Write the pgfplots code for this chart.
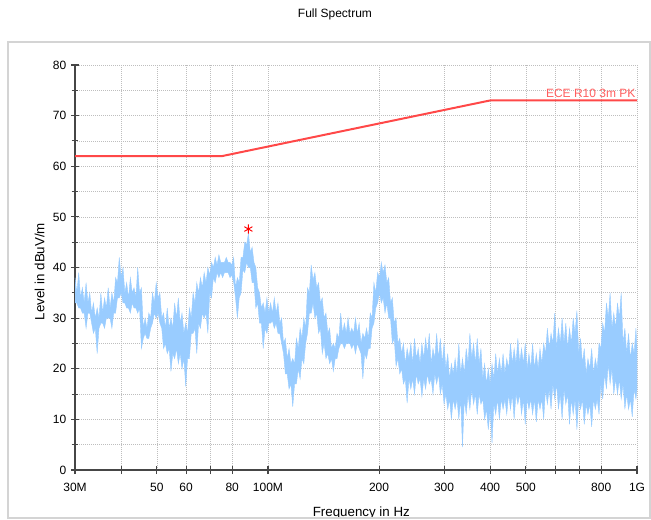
\documentclass[border=0pt]{standalone}
\usepackage{fontspec}
\setmainfont{Liberation Sans}
\usepackage{pgfplots}
\pgfplotsset{compat=1.18}
\definecolor{spec}{RGB}{153,204,255}
\definecolor{lim}{RGB}{255,72,72}
\definecolor{limtxt}{RGB}{255,95,95}
\definecolor{axgray}{RGB}{70,70,70}
\definecolor{gridgray}{RGB}{190,190,190}
\definecolor{framegray}{RGB}{212,212,212}

\begin{document}
\begin{tikzpicture}
\begin{axis}[
    at={(0,0)}, anchor=south west,
    width=421.5pt, height=303.75pt, scale only axis,
    xmode=log, xmin=30, xmax=1000, ymin=0, ymax=80,
    axis lines=left, axis line style={-, axgray, line width=1.2pt},
    xtick={30,40,50,60,70,80,100,200,300,400,500,600,700,800,1000},
    xticklabels={30M,,50,60,,80,100M,200,300,400,500,,,800,1G},
    minor xtick={},
    ytick={0,10,...,80}, minor ytick={5,15,...,75},
    grid=both,
    major grid style={gridgray, line width=0.5pt, dash pattern=on 0.75pt off 0.75pt},
    minor grid style={gridgray, line width=0.5pt, dash pattern=on 0.75pt off 0.75pt},
    tick align=center, major tick length=6pt, minor tick length=5pt,
    tick style={axgray, line width=0.8pt},
    /pgf/number format/assume math mode=true,
    tick label style={font=\fontsize{9}{10}\selectfont, text=black},
    xticklabel style={yshift=-3pt},
    label style={font=\fontsize{9.5}{11}\selectfont},
    xlabel={Frequency in Hz},
    ylabel={Level in dBuV/m},
    every axis x label/.style={at={(axis description cs:0.5,0)}, anchor=center, yshift=-32pt, xshift=4pt},
    every axis y label/.style={at={(axis description cs:0,0.5)}, rotate=90, anchor=center, yshift=26.5pt, xshift=-3pt},
    clip=false,
]
% measured spectrum: upper edge left to right, then lower edge right to left
\addplot[draw=spec, fill=spec, line width=0.3pt] coordinates {
(30.00,38)(30.35,35)(30.70,39)(31.06,34)(31.41,36)(31.77,33)(32.15,37)(32.52,33)(32.90,35)(33.28,31)
(33.66,33)(34.05,30)(34.45,32)(34.85,30)(35.25,35)(35.66,31)(36.07,34)(36.49,32)(36.91,36)(37.34,32)
(37.77,35)(38.21,33)(38.65,38)(39.10,37)(39.55,42)(40.01,38)(40.47,40)(40.94,35)(41.41,37)(41.89,34)
(42.38,38)(42.87,35)(43.36,36)(43.86,34)(44.37,40)(44.88,35)(45.41,36)(45.94,28)(46.46,30)(47.00,28)
(47.55,31)(48.10,30)(48.65,35)(49.21,33)(49.79,37)(50.37,34)(50.95,35)(51.54,30)(52.13,31)(52.73,28)
(53.35,32)(53.97,28)(54.59,30)(55.22,28)(55.86,33)(56.51,30)(57.17,34)(57.83,29)(58.49,31)(59.17,27)
(59.86,29)(60.55,27)(61.25,32)(61.96,30)(62.68,35)(63.41,33)(64.14,37)(64.88,35)(65.63,38)(66.39,36)
(67.16,39)(67.94,37)(68.73,40)(69.53,38.5)(70.33,41)(71.14,40)(71.96,42)(72.79,40.5)(73.64,42.5)(74.49,41)
(75.36,41)(76.23,41)(77.11,42)(78.00,41)(78.91,41)(79.82,40.5)(80.75,42)(81.68,36)(82.63,38)(83.59,37)
(84.55,42)(85.53,42)(86.52,45)(87.52,44.5)(88.54,46.8)(89.57,43)(90.60,44)(91.65,41)(92.71,40)(93.78,36)
(94.87,35)(95.97,32)(97.08,33)(98.20,31)(99.34,34)(100.49,31)(101.65,33)(102.83,31)(104.02,34)(105.22,31)
(106.44,33)(107.67,29)(108.92,30)(110.18,25)(111.46,26)(112.75,22)(114.06,24)(115.38,21)(116.72,22)(118.07,21)
(119.43,26)(120.81,24)(122.21,28)(123.62,26)(125.06,30)(126.51,28)(127.97,36)(129.45,35)(130.96,40.5)(132.48,37.5)
(134.00,39)(135.55,36)(137.13,37)(138.72,33)(140.32,34)(141.94,30)(143.59,31)(145.25,27)(146.93,28)(148.63,24)
(150.36,25)(152.10,24)(153.86,27)(155.64,26)(157.44,31)(159.26,27)(161.11,29)(162.98,27)(164.86,30)(166.77,27)
(168.70,28)(170.65,27)(172.63,30)(174.63,27)(176.65,29)(178.70,25)(180.77,27)(182.86,26)(184.98,28)(187.12,26)
(189.29,31)(191.48,30)(193.70,37)(195.94,35)(198.21,39)(200.51,38)(202.82,41)(205.17,39)(207.55,40.5)(209.95,37)
(212.39,38)(214.85,33)(217.33,34)(219.85,29)(222.39,30)(224.97,25)(227.57,26)(230.21,23)(232.88,25)(235.58,21)
(238.30,24)(241.06,22)(243.85,25)(246.67,21)(249.53,26)(252.42,22)(255.34,24)(258.30,21)(261.29,25)(264.32,22)
(267.38,26)(270.48,23)(273.60,27)(276.77,21)(279.98,24)(283.22,22)(286.50,27)(289.82,22)(293.17,26)(296.56,21)
(300.0,25)(303.47,20)(307.0,23)(310.55,18)(314.1,21)(317.74,19)(321.5,22)(325.22,19)(329.0,25)(332.81,19)
(336.6,22)(340.50,19)(344.5,24)(348.49,21)(352.5,27)(356.58,22)(360.7,25)(364.88,21)(369.1,26)(373.37,21)
(377.7,24)(382.07,18)(386.5,21)(390.98,17)(395.5,20)(400.08,17)(404.7,21)(409.39,18)(414.1,23)(418.90,19)
(423.8,22)(428.71,19)(433.6,23)(438.62,19)(443.7,22)(448.84,20)(454.1,25)(459.36,21)(464.6,24)(469.98,21)
(475.5,26)(481.01,21)(486.5,24)(492.13,21)(497.9,25)(503.67,20)(509.5,23)(515.40,20)(521.3,25)(527.34,20)
(533.5,23)(539.68,20)(545.9,24)(552.22,21)(558.6,25)(565.07,23)(571.7,28)(578.32,24)(584.9,27)(591.67,25)
(598.6,31)(605.53,24)(612.5,28)(619.59,25)(626.8,30)(634.06,25)(641.4,29)(648.83,24)(656.3,28)(663.90,25)
(671.6,30)(679.38,27)(687.3,31.5)(695.26,23)(703.3,26)(711.44,21)(719.6,24)(727.93,19)(736.4,22)(744.93,20)
(753.6,24)(762.32,19)(771.1,22)(780.02,20)(789.1,25)(798.23,24)(807.5,29)(816.85,27)(826.3,33)(835.87,30)
(845.5,35)(855.29,28)(865.2,31)(875.22,28)(885.4,33)(895.65,30)(906.0,35)(916.49,25)(927.1,28)(937.84,23)
(948.7,27)(959.69,22)(970.8,25)(982.04,23)(993.4,28)(1000,24)
(1000,16)(993.4,14)(982.04,16)(970.8,10.5)(959.69,14)(948.7,12)(937.84,15)(927.1,12)(916.49,17)(906.0,14)
(895.65,18)(885.4,15)(875.22,18)(865.2,15)(855.29,20)(845.5,17)(835.87,21)(826.3,16)(816.85,19)(807.5,14)(798.23,17)
(789.1,11)(780.02,14)(771.1,12)(762.32,14)(753.6,8.5)(744.93,13)(736.4,11)(727.93,13)(719.6,9)(711.44,14)
(703.3,12)(695.26,14)(687.3,8)(679.38,14)(671.6,11)(663.90,14)(656.3,9)(648.83,15)(641.4,13)(634.06,16)
(626.8,10)(619.59,15)(612.5,12)(605.53,17)(598.6,14)(591.67,17)(584.9,12)(578.32,16)(571.7,13)(565.07,16)
(558.6,10)(552.22,14)(545.9,12)(539.68,14)(533.5,9.5)(527.34,14)(521.3,11)(515.40,14)(509.5,12)(503.67,14)
(497.9,9)(492.13,14)(486.5,11)(481.01,15)(475.5,13)(469.98,15)(464.6,10)(459.36,15)(454.1,12)(448.84,15)
(443.7,11)(438.62,14)(433.6,12)(428.71,14)(423.8,10)(418.90,14)(414.1,11)(409.39,13)(404.7,5.3)(400.08,12)
(395.5,8)(390.98,12)(386.5,10)(382.07,14)(377.7,13)(373.37,15)(369.1,11)(364.88,15)(360.7,13)(356.58,16)
(352.5,12)(348.49,15)(344.5,11)(340.50,14)(336.6,4.5)(332.81,14)(329.0,10)(325.22,14)(321.5,12)(317.74,14)
(314.1,10)(310.55,14)(307.0,12)(303.47,15)(300.0,13)(296.56,17)(293.17,15)(289.82,19)(286.50,17)(283.22,19)
(279.98,15)(276.77,18)(273.60,17)(270.48,19)(267.38,16)(264.32,18)(261.29,14.5)(258.30,18)(255.34,17)(252.42,19)
(249.53,15)(246.67,18)(243.85,16)(241.06,18)(238.30,13.2)(235.58,18)(232.88,17)(230.21,20)(227.57,19)(224.97,22)
(222.39,20.5)(219.85,26)(217.33,25)(214.85,30)(212.39,30)(209.95,33)(207.55,31)(205.17,34)(202.82,33)(200.51,35)
(198.21,33)(195.94,32)(193.70,29)(191.48,28)(189.29,24)(187.12,24)(184.98,22)(182.86,23)(180.77,18)(178.70,23)
(176.65,24)(174.63,25)(172.63,23)(170.65,25)(168.70,24)(166.77,25)(164.86,25)(162.98,25)(161.11,24)(159.26,25)
(157.44,25)(155.64,24)(153.86,22)(152.10,22)(150.36,19.5)(148.63,22)(146.93,21)(145.25,23)(143.59,22)(141.94,25)
(140.32,23)(138.72,28)(137.13,27)(135.55,31)(134.00,30)(132.48,33)(130.96,31)(129.45,31)(127.97,27)(126.51,25)
(125.06,21)(123.62,22)(122.21,18)(120.81,20)(119.43,17)(118.07,17)(116.72,12.5)(115.38,17)(114.06,16)(112.75,19)
(111.46,19)(110.18,23)(108.92,25)(107.67,27)(106.44,27)(105.22,29)(104.02,28)(102.83,29.5)(101.65,29)(100.49,29)
(99.34,27)(98.20,28)(97.08,24)(95.97,29)(94.87,29)(93.78,33)(92.71,32)(91.65,37)(90.60,37)(89.57,40)
(88.54,40)(87.52,41)(86.52,39)(85.53,39.5)(84.55,35)(83.59,34)(82.63,30)(81.68,34)(80.75,37)(79.82,38.5)
(78.91,38)(78.00,39)(77.11,39)(76.23,39)(75.36,38)(74.49,39)(73.64,38)(72.79,39)(71.96,37)(71.14,38)
(70.33,34)(69.53,35)(68.73,27)(67.94,31)(67.16,30)(66.39,31)(65.63,28)(64.88,29)(64.14,23)(63.41,28)
(62.68,27)(61.96,27)(61.25,22)(60.55,22)(59.86,16.5)(59.17,22)(58.49,20)(57.83,23)(57.17,21)(56.51,24)
(55.86,22)(55.22,23)(54.59,19.5)(53.97,24)(53.35,23)(52.73,25)(52.13,24)(51.54,28)(50.95,29)(50.37,31)
(49.79,30)(49.21,31)(48.65,29)(48.10,28)(47.55,26)(47.00,26)(46.46,27)(45.94,26)(45.41,24)(44.88,32)
(44.37,31)(43.86,32)(43.36,32)(42.87,33)(42.38,31)(41.89,32)(41.41,32)(40.94,33)(40.47,33)(40.01,35)
(39.55,34)(39.10,34)(38.65,31)(38.21,31)(37.77,28)(37.34,30)(36.91,30)(36.49,30)(36.07,28)(35.66,29)
(35.25,29)(34.85,28)(34.45,23)(34.05,28)(33.66,27)(33.28,29)(32.90,31)(32.52,31)(32.15,28)(31.77,31)
(31.41,31)(31.06,32)(30.70,32)(30.35,33)(30.00,33)
};
% limit line
\addplot[lim, line width=1.5pt] coordinates {(30,62)(75,62)(400,73)(1000,73)};
\node[anchor=south east, text=limtxt, inner sep=1pt, font=\fontsize{9}{10}\selectfont] at (axis cs:1000,73.3) {ECE R10 3m PK};
% peak marker
\addplot[only marks, mark=asterisk, red, mark size=3.5pt, line width=0.7pt] coordinates {(88.5,47.6)};
\end{axis}
\begin{scope}[x=0.75pt, y=-0.75pt, xshift=-56.25pt, yshift=352.5pt]
\draw[framegray, line width=1.5pt] (8,519) -- (8,42) -- (649.5,42) -- (649.5,517.5) -- (8,517.5);
\node[font=\fontsize{9}{10}\selectfont] at (335,14) {Full Spectrum};
\pgfresetboundingbox
\path (0,0) rectangle (651,519);
\end{scope}
\end{tikzpicture}
\end{document}
